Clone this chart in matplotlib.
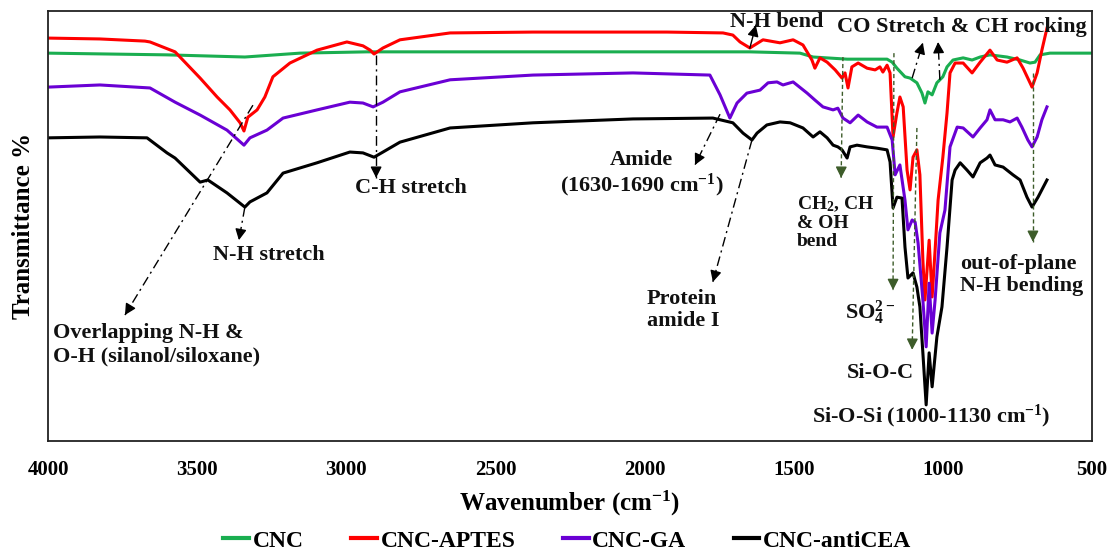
import numpy as np
import matplotlib
matplotlib.use("Agg")
import matplotlib.pyplot as plt

plt.rcParams['font.family'] = ['Liberation Serif', 'DejaVu Serif']
plt.rcParams['font.weight'] = 'bold'
plt.rcParams['mathtext.fontset'] = 'custom'
plt.rcParams['mathtext.rm'] = 'Liberation Serif:bold'
plt.rcParams['mathtext.bf'] = 'Liberation Serif:bold'
plt.rcParams['mathtext.it'] = 'Liberation Serif:bold'
plt.rcParams['mathtext.default'] = 'bf'

# ---------------- data (wavenumber cm-1, transmittance % offset scale) ----------------
cnc_w = [4000, 3601, 3340, 3155, 2931, 2820, 1647, 1479, 1435, 1321, 1187, 1170, 1154, 1127,
         1110, 1087, 1070, 1060, 1050, 1036, 1020, 1000, 986, 966, 932, 902, 875, 842, 785,
         741, 708, 691, 674, 641, 500]
cnc_t = [90.2, 89.8, 89.3, 90.2, 90.5, 90.5, 90.5, 90.2, 89.3, 88.8, 88.8, 88.1, 86.7, 84.7,
         84.4, 83.3, 80.9, 78.6, 81.2, 80.5, 83.3, 84.7, 87.0, 88.6, 89.1, 88.6, 89.3, 89.8, 89.3,
         88.6, 87.9, 88.1, 89.8, 90.2, 90.2]

aptes_w = [4000, 3826, 3675, 3658, 3574, 3490, 3433, 3390, 3356, 3343, 3330, 3299, 3273, 3246,
           3189, 3098, 2998, 2944, 2920, 2907, 2877, 2820, 2652, 2374, 1925, 1737, 1704, 1680,
           1647, 1603, 1546, 1502, 1469, 1439, 1429, 1412, 1388, 1361, 1338, 1328, 1318, 1305,
           1284, 1254, 1227, 1211, 1201, 1187, 1177, 1167, 1154, 1144, 1133, 1120, 1110, 1100,
           1087, 1077, 1067, 1060, 1046, 1036, 1026, 1016, 1000, 986, 976, 959, 932, 902, 875,
           842, 818, 785, 751, 731, 701, 684, 668, 651]
aptes_t = [93.7, 93.5, 93.0, 92.8, 90.5, 84.4, 80.0, 77.0, 74.0, 72.1, 75.3, 77.0, 80.0, 84.7,
           87.9, 90.9, 92.8, 91.9, 90.9, 90.0, 91.4, 93.3, 94.9, 95.1, 95.1, 94.9, 94.4, 92.8,
           91.4, 93.3, 92.6, 93.3, 92.1, 88.6, 86.7, 89.1, 88.1, 86.3, 84.4, 85.6, 82.1, 87.0,
           87.9, 86.7, 86.3, 87.0, 85.8, 87.4, 85.6, 70.7, 76.3, 80.0, 77.7, 63.0, 58.4, 66.0,
           67.7, 61.9, 42.1, 32.8, 46.7, 33.5, 44.4, 56.0, 66.0, 76.3, 85.6, 87.9, 87.9, 85.6,
           88.1, 90.9, 88.6, 88.1, 89.1, 86.7, 82.3, 85.6, 90.9, 96.0]

ga_w = [4000, 3826, 3658, 3574, 3490, 3400, 3343, 3323, 3266, 3212, 3098, 2988, 2944, 2910,
        2877, 2820, 2652, 2374, 2039, 1781, 1747, 1714, 1690, 1657, 1613, 1586, 1556, 1536,
        1502, 1455, 1429, 1402, 1368, 1352, 1335, 1311, 1284, 1254, 1221, 1187, 1170, 1160,
        1144, 1127, 1117, 1103, 1093, 1083, 1067, 1056, 1046, 1036, 1026, 1010, 993, 976, 952,
        932, 899, 875, 852, 842, 825, 798, 775, 751, 735, 715, 701, 684, 668, 651]
ga_t = [82.3, 82.8, 82.1, 78.8, 75.8, 72.3, 68.8, 70.5, 72.3, 75.1, 77.0, 78.8, 78.6, 77.7,
        78.8, 81.2, 84.0, 85.1, 85.6, 85.1, 80.5, 75.1, 78.6, 80.9, 81.6, 83.3, 83.5, 82.8,
        83.5, 80.9, 79.3, 77.7, 77.0, 77.4, 75.1, 74.0, 75.8, 74.2, 73.0, 73.0, 70.0, 61.9,
        64.2, 56.0, 49.1, 51.4, 50.9, 46.0, 32.8, 21.9, 36.7, 25.1, 32.8, 48.4, 53.7, 68.4, 73.0,
        72.8, 70.7, 72.8, 74.7, 77.0, 74.7, 74.7, 74.2, 75.1, 73.0, 70.0, 68.4, 70.7, 74.7, 77.7]

anti_w = [4000, 3826, 3668, 3601, 3574, 3490, 3464, 3400, 3340, 3323, 3266, 3212, 3098, 2988,
          2944, 2907, 2877, 2820, 2652, 2374, 2039, 1771, 1704, 1670, 1640, 1623, 1590, 1546,
          1512, 1469, 1435, 1412, 1388, 1368, 1352, 1338, 1321, 1311, 1288, 1254, 1221, 1187,
          1177, 1167, 1154, 1137, 1127, 1117, 1100, 1087, 1077, 1067, 1056, 1046, 1036, 1020,
          1003, 986, 969, 959, 942, 919, 899, 875, 852, 842, 825, 798, 765, 741, 718, 701, 681, 651]
anti_t = [70.5, 70.7, 70.5, 67.0, 65.8, 60.2, 60.7, 57.7, 54.4, 55.6, 57.7, 62.3, 64.7, 67.2,
          67.0, 66.0, 67.2, 69.5, 72.8, 74.0, 74.9, 75.1, 74.0, 71.6, 70.0, 71.6, 73.5, 74.2,
          74.0, 72.8, 70.7, 71.9, 70.5, 68.8, 68.4, 67.7, 65.8, 68.4, 68.8, 68.4, 68.1, 67.7,
          64.9, 54.2, 56.7, 56.5, 45.1, 37.9, 39.1, 35.8, 31.2, 20.5, 8.4, 20.5, 12.6, 24.2,
          31.2, 45.1, 60.7, 63.0, 64.7, 63.0, 61.4, 64.7, 65.8, 66.5, 64.2, 63.7, 61.9, 60.7,
          56.7, 54.4, 56.7, 60.7]

series_names = ['CNC', 'CNC-APTES', 'CNC-GA', 'CNC-antiCEA']
series_colors = ['#1AAE50', '#FF0000', '#6A00D4', '#000000']
x_ticks = [4000, 3500, 3000, 2500, 2000, 1500, 1000, 500]

# ---------------- figure ----------------
fig = plt.figure(figsize=(11.08, 5.52), dpi=100)
ax = fig.add_axes([48 / 1108, 1 - 441 / 552, 1044 / 1108, 430 / 552])

for (w, t), name, c in zip([(cnc_w, cnc_t), (aptes_w, aptes_t), (ga_w, ga_t), (anti_w, anti_t)],
                           series_names, series_colors):
    ax.plot(w, t, color=c, lw=2.2, label=name, solid_joinstyle='round')

ax.set_xlim(4000, 500)
ax.set_ylim(0, 100)
ax.set_xticks(x_ticks)
ax.set_xticklabels([str(v) for v in x_ticks], fontsize=15, fontweight='bold')
ax.tick_params(axis='x', length=0, pad=14)
ax.set_yticks([])
for s in ax.spines.values():
    s.set_linewidth(1.3)
    s.set_color('#222222')

ax.set_xlabel('Wavenumber (cm$^{-1}$)', fontsize=18, fontweight='bold', labelpad=6)
ax.set_ylabel('Transmittance %', fontsize=18, fontweight='bold')
ax.yaxis.set_label_coords(-0.012, 0.5)

fig.canvas.draw()


def arrow(tail, head, color='k', ls=(0, (7, 3, 1.5, 3)), lw=1.0, hl=7):
    ax.plot([tail[0], head[0]], [tail[1], head[1]], color=color, lw=lw, ls=ls)
    p1 = ax.transData.transform(tail)
    p2 = ax.transData.transform(head)
    d = p1 - p2
    d = d / np.hypot(*d) * hl
    ax.annotate('', xy=head, xytext=(d[0] * 72 / 100, d[1] * 72 / 100),
                textcoords='offset points',
                arrowprops=dict(arrowstyle='-|>,head_length=0.55,head_width=0.28',
                                color=color, lw=lw, shrinkA=0, shrinkB=0, mutation_scale=12))


tk = dict(fontsize=16, fontweight='bold', color='#111111')
dg = '#3D5C2A'

# N-H bend
ax.text(1714, 97.4, 'N-H bend', ha='left', va='center', **tk)
arrow((1647, 91.4), (1627, 96.7), ls='-')
# CO stretch & CH rocking
ax.text(1355, 96.3, 'CO Stretch & CH rocking', ha='left', va='center', **tk)
arrow((1103, 84.4), (1067, 92.6))
arrow((1010, 84.0), (1016, 92.8))
# C-H stretch
ax.text(2971, 58.8, 'C-H stretch', ha='left', va='center', **tk)
arrow((2900, 89.8), (2900, 61.2))
# N-H stretch
ax.text(3447, 43.3, 'N-H stretch', ha='left', va='center', **tk)
arrow((3340, 54.4), (3360, 46.7))
# Overlapping
ax.text(3983, 22.4, 'Overlapping N-H &\nO-H (silanol/siloxane)', ha='left', va='center',
        linespacing=1.25, **tk)
arrow((3313, 78.1), (3742, 29.3))
# Amide
ax.text(2010, 62.0, 'Amide\n(1630-1690 cm$^{-1}$)', ha='center', va='center',
        linespacing=1.1, **tk)
arrow((1747, 76.0), (1831, 64.2))
# Protein amide I
ax.text(1992, 30.5, 'Protein\namide I', ha='left', va='center', linespacing=1.15, **tk)
arrow((1640, 70.0), (1771, 37.0))
# CH2, CH & OH bend
ax.text(1489, 50.9, 'CH$_2$, CH\n& OH\nbend', ha='left', va='center', linespacing=1.1,
        fontsize=14, fontweight='bold', color='#111111')
arrow((1335, 89.3), (1341, 61.2), color=dg, ls=(0, (3, 2)))
# SO4 2-
ax.text(1328, 29.8, 'SO$_4^{2-}$', ha='left', va='center', **tk)
arrow((1164, 90.2), (1167, 35.1), color=dg, ls=(0, (3, 2)))
# Si-O-C
ax.text(1321, 15.8, 'Si-O-C', ha='left', va='center', **tk)
arrow((1087, 72.8), (1103, 21.2), color=dg, ls=(0, (3, 2)))
# Si-O-Si
ax.text(1439, 5.8, 'Si-O-Si (1000-1130 cm$^{-1}$)', ha='left', va='center', **tk)
# out-of-plane
ax.text(943, 38.6, 'out-of-plane\nN-H bending', ha='left', va='center', linespacing=1.1, **tk)
arrow((698, 85.6), (698, 46.3), color=dg, ls=(0, (3, 2)))

h, l = ax.get_legend_handles_labels()
leg = fig.legend(h, l, loc='center', bbox_to_anchor=(0.512, 0.02), ncol=4, frameon=False,
                 handlelength=1.1, handletextpad=0.15, columnspacing=2.0,
                 prop={'weight': 'bold', 'size': 17})
for ln in leg.get_lines():
    ln.set_linewidth(3)

fig.savefig('out.png', dpi=100)
